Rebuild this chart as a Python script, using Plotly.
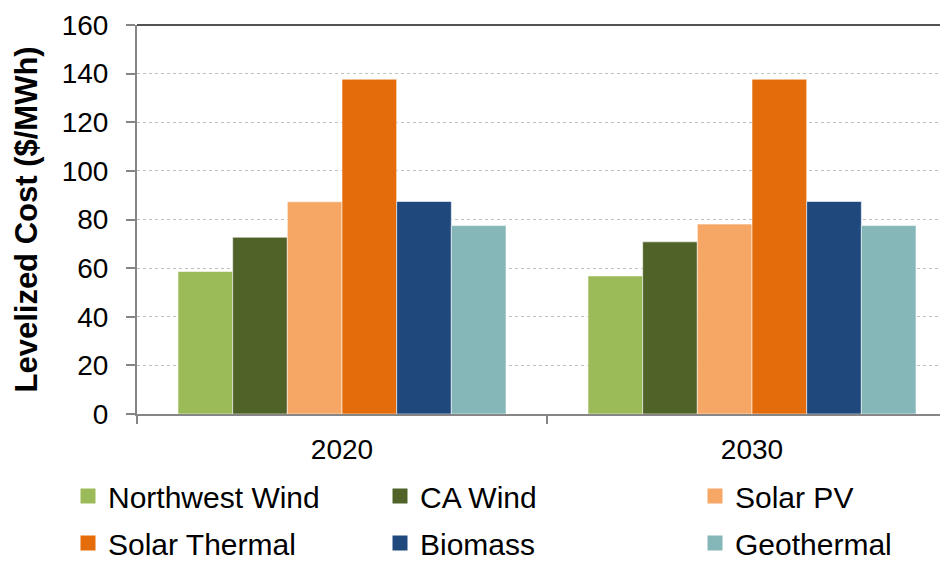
import plotly.graph_objects as go

# Levelized cost of new renewable resources by year
years = ["2020", "2030"]
resources = ["Northwest Wind", "CA Wind", "Solar PV", "Solar Thermal", "Biomass", "Geothermal"]
northwest_wind = [58.6, 56.8]
ca_wind = [72.7, 70.8]
solar_pv = [87.3, 78.1]
solar_thermal = [137.7, 137.7]
biomass = [87.4, 87.4]
geothermal = [77.5, 77.5]

series = [northwest_wind, ca_wind, solar_pv, solar_thermal, biomass, geothermal]
colors = ["#9BBB59", "#4F6228", "#F6A665", "#E46C0A", "#1F497D", "#86B7B8"]
# three legend columns, two entries each
legend_ids = ["legend", "legend2", "legend3", "legend", "legend2", "legend3"]

FONT = "Liberation Sans, Arial, sans-serif"

fig = go.Figure()
for name, vals, col in zip(resources, series, colors):
    fig.add_trace(go.Bar(
        x=years, y=vals, name=name, showlegend=False, legendgroup=name,
        marker=dict(color=col, line=dict(color="rgba(255,255,255,0.55)", width=1)),
    ))

# legend keys: square swatches per resource
for name, col, lg in zip(resources, colors, legend_ids):
    fig.add_trace(go.Scatter(
        x=[None], y=[None], mode="markers", name=name, legend=lg, legendgroup=name,
        marker=dict(symbol="square", size=15, color=col, line=dict(width=0)),
    ))

legend_common = dict(
    orientation="v", xref="container", yref="container",
    yanchor="top", xanchor="left", y=1 - 470 / 561,
    font=dict(family=FONT, size=30, color="#000000"),
    bgcolor="rgba(0,0,0,0)", borderwidth=0, tracegroupgap=5,
)

fig.update_layout(
    width=940, height=561,
    margin=dict(l=137, r=0, t=24.6, b=147, pad=0, autoexpand=False),
    paper_bgcolor="white", plot_bgcolor="white",
    barmode="group", bargap=0.2, bargroupgap=0,
    font=dict(family=FONT, color="#000000"),
    legend=dict(legend_common, x=68 / 940),
    legend2=dict(legend_common, x=380 / 940),
    legend3=dict(legend_common, x=695 / 940),
    xaxis=dict(
        type="category", range=[-0.5, 1.4585],
        tickson="boundaries", ticks="outside", ticklen=8, tickwidth=1.5, tickcolor="#868686",
        showline=True, linecolor="#868686", linewidth=2,
        showgrid=False, zeroline=False, tickangle=0,
        tickfont=dict(family=FONT, size=28, color="#000000"),
        ticklabelstandoff=9,
    ),
    yaxis=dict(
        range=[0, 160], tickmode="array",
        tickvals=[0, 20, 40, 60, 80, 100, 120, 140, 160],
        ticktext=["0", "20", "40", "60", "80", "100", "120", "140", "160"],
        ticks="outside", ticklen=9, tickwidth=1.5, tickcolor="#868686",
        showline=True, linecolor="#868686", linewidth=2,
        showgrid=True, gridcolor="#BFBFBF", griddash="dot", gridwidth=1,
        zeroline=False,
        tickfont=dict(family=FONT, size=28, color="#000000"),
        ticklabelstandoff=12,
    ),
    showlegend=True,
)

# y-axis title, rotated along the left edge
fig.add_annotation(
    text="<b>Levelized Cost ($/MWh)</b>", textangle=-90,
    xref="paper", yref="paper", x=(26 - 137) / 803, y=0.5,
    xanchor="center", yanchor="middle", showarrow=False,
    font=dict(family=FONT, size=31, color="#000000"),
)

# dark border along the top of the plot area
fig.add_shape(type="line", xref="paper", yref="paper", x0=0, x1=1, y0=1, y1=1,
              line=dict(color="#1A1A1A", width=1.5))

fig.write_html("out.html")
